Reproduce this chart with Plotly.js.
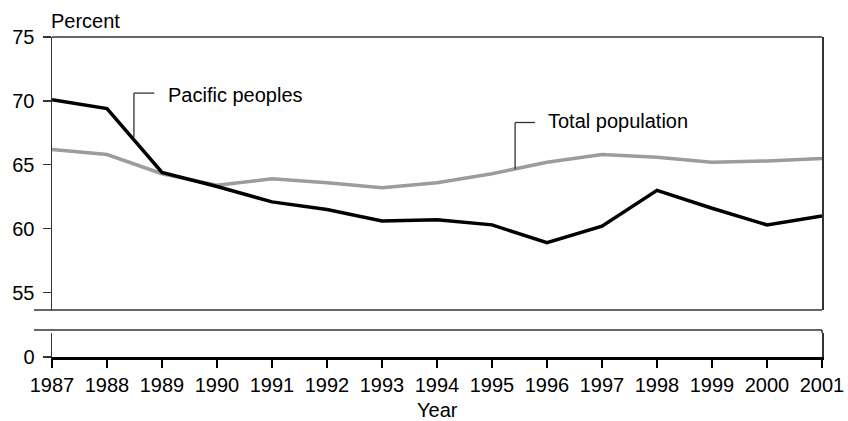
<!DOCTYPE html>
<html>
<head>
<meta charset="utf-8">
<script src="https://cdn.plot.ly/plotly-3.0.1.min.js"></script>
<style>html,body{margin:0;padding:0;background:#fff;}#chart{width:848px;height:421px;}</style>
</head>
<body>
<div id="chart"></div>
<script>
const years = [1987,1988,1989,1990,1991,1992,1993,1994,1995,1996,1997,1998,1999,2000,2001];
const pacificPeoples = [70.1,69.4,64.4,63.3,62.1,61.5,60.6,60.7,60.3,58.9,60.2,63.0,61.6,60.3,61.0];
const totalPopulation = [66.2,65.8,64.3,63.4,63.9,63.6,63.2,63.6,64.3,65.2,65.8,65.6,65.2,65.3,65.5];
const upperTicks = [55,60,65,70,75];
const lowerTicks = [0];
const seriesNames = ["Pacific peoples","Total population"];

const FONT = "Liberation Sans, Arial, sans-serif";
const FS = 20;
const frame = "#333";

const traces = [
  {x: years, y: totalPopulation, type: "scatter", mode: "lines", name: seriesNames[1],
   line: {color: "#9c9c9c", width: 3.5}, xaxis: "x", yaxis: "y", hoverinfo: "skip"},
  {x: years, y: pacificPeoples, type: "scatter", mode: "lines", name: seriesNames[0],
   line: {color: "#000", width: 3.5}, xaxis: "x", yaxis: "y", hoverinfo: "skip"},
  // invisible trace so the lower (broken) axis panel is drawn
  {x: [years[0]], y: [lowerTicks[0]], type: "scatter", mode: "markers", marker: {opacity: 0},
   xaxis: "x", yaxis: "y2", hoverinfo: "skip", showlegend: false}
];

const layout = {
  width: 848, height: 421,
  margin: {l: 52, r: 26, t: 37, b: 64, pad: 0},
  paper_bgcolor: "#fff", plot_bgcolor: "#fff",
  showlegend: false,
  font: {family: FONT, size: FS, color: "#000"},
  xaxis: {
    range: [years[0], years[years.length-1]], anchor: "y2",
    tickvals: years, ticktext: years.map(String),
    ticks: "outside", ticklen: 8, tickwidth: 1.3, tickcolor: "#000",
    showline: true, linecolor: "#000", linewidth: 2.5,
    showgrid: false, zeroline: false, fixedrange: true,
    tickfont: {family: FONT, size: FS, color: "#000"}
  },
  yaxis: {
    domain: [(357-310)/320, 1], range: [53.64, 75], anchor: "x",
    tickvals: upperTicks, ticks: "outside", ticklen: 8, tickwidth: 1.3, tickcolor: frame,
    showline: true, linecolor: frame, linewidth: 1.5, mirror: true,
    showgrid: false, zeroline: false, fixedrange: true, ticklabelstandoff: 4,
    tickfont: {family: FONT, size: FS, color: "#000"}
  },
  yaxis2: {
    domain: [0, 24/320], range: [0, 1], anchor: "x",
    tickvals: lowerTicks, ticks: "outside", ticklen: 8, tickwidth: 1.3, tickcolor: frame,
    showline: true, linecolor: frame, linewidth: 1.5, mirror: true,
    showgrid: false, zeroline: false, fixedrange: true, ticklabelstandoff: 4,
    tickfont: {family: FONT, size: FS, color: "#000"}
  },
  shapes: [
    {type: "line", xref: "paper", yref: "paper", x0: 0, x1: 1, y0: 1, y1: 1, line: {color: frame, width: 1.5}},
    {type: "line", xref: "paper", yref: "paper", x0: -18/770, x1: 1, y0: (357-310)/320, y1: (357-310)/320, line: {color: frame, width: 1.5}},
    {type: "line", xref: "paper", yref: "paper", x0: -18/770, x1: 1, y0: 27/320, y1: 27/320, line: {color: frame, width: 1.5}},
    {type: "line", xref: "paper", yref: "paper", x0: 1, x1: 1, y0: 24/320, y1: 27/320, line: {color: frame, width: 1.5}},
    {type: "line", xref: "x", yref: "y", x0: 1988.49, x1: 1988.49, y0: 67.17, y1: 70.61, line: {color: frame, width: 1.3}},
    {type: "line", xref: "x", yref: "y", x0: 1988.49, x1: 1988.86, y0: 70.61, y1: 70.61, line: {color: frame, width: 1.3}},
    {type: "line", xref: "x", yref: "y", x0: 1995.42, x1: 1995.42, y0: 64.65, y1: 68.31, line: {color: frame, width: 1.3}},
    {type: "line", xref: "x", yref: "y", x0: 1995.42, x1: 1995.78, y0: 68.31, y1: 68.31, line: {color: frame, width: 1.3}}
  ],
  annotations: [
    {text: seriesNames[0], xref: "x", yref: "y", x: 1989.08, y: 70.5, xanchor: "left", yanchor: "middle", showarrow: false, font: {family: FONT, size: FS, color: "#000"}},
    {text: seriesNames[1], xref: "x", yref: "y", x: 1995.99, y: 68.4, xanchor: "left", yanchor: "middle", showarrow: false, font: {family: FONT, size: FS, color: "#000"}},
    {text: "Percent", xref: "paper", yref: "paper", x: -3/770, y: (357-21)/320, xanchor: "left", yanchor: "middle", showarrow: false, font: {family: FONT, size: FS, color: "#000"}},
    {text: "Year", xref: "paper", yref: "paper", x: 0.5, y: (357-410)/320, xanchor: "center", yanchor: "middle", showarrow: false, font: {family: FONT, size: FS, color: "#000"}}
  ]
};

Plotly.newPlot("chart", traces, layout, {staticPlot: true, displayModeBar: false});
</script>
</body>
</html>
